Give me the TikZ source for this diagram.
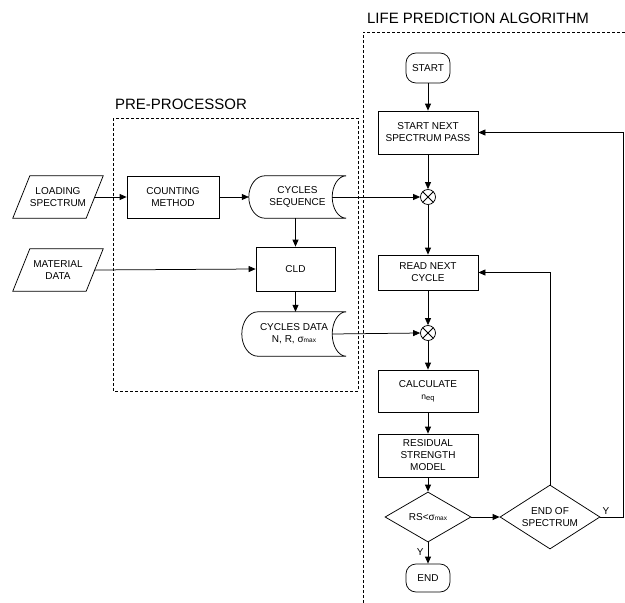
\documentclass[tikz,border=0pt]{standalone}
\usepackage{fontspec}
\setmainfont{Liberation Sans}
\usetikzlibrary{arrows.meta,shapes.geometric}

% parallelogram outline around a plain node (slant offset 8.5pt on each side)
\newcommand\paraframe[1]{%
  \draw[outline] ([xshift=-8.5pt]#1.south west) -- ([xshift=8.5pt]#1.north west)
    -- ([xshift=8.5pt]#1.north east) -- ([xshift=-8.5pt]#1.south east) -- cycle;}
% stored-data outline: convex left side, concave right side
% #1 node, #2 left bulge radius, #3 right hollow depth, #4 half height
\newcommand\storedframe[4]{%
  \draw[outline] ([xshift=#2*1pt]#1.north west) -- (#1.north east)
    .. controls ([xshift=-0.552*#3*1pt]#1.north east)
       and ([xshift=-#3*1pt,yshift=0.552*#4*1pt]#1.east) .. ([xshift=-#3*1pt]#1.east)
    .. controls ([xshift=-#3*1pt,yshift=-0.552*#4*1pt]#1.east)
       and ([xshift=-0.552*#3*1pt]#1.south east) .. (#1.south east)
    -- ([xshift=#2*1pt]#1.south west)
    .. controls ([xshift=0.448*#2*1pt]#1.south west)
       and ([yshift=-0.552*#4*1pt]#1.west) .. (#1.west)
    .. controls ([yshift=0.552*#4*1pt]#1.west)
       and ([xshift=0.448*#2*1pt]#1.north west) .. ([xshift=#2*1pt]#1.north west)
    -- cycle;}

\begin{document}
\begin{tikzpicture}[x=1pt,y=-1pt,
  every node/.style={font=\fontsize{10}{12}\selectfont, align=center, inner sep=0pt},
  outline/.style={line width=0.75pt},
  flow/.style={line width=0.75pt, -{Triangle[length=7pt,width=6pt]}},
  frame/.style={line width=0.6pt, dash pattern=on 3pt off 2pt},
  title/.style={font=\fontsize{15}{18}\selectfont},
  box/.style={draw, line width=0.75pt, minimum width=100pt, minimum height=43pt},
  terminal/.style={draw, line width=0.75pt, rounded corners=10pt, minimum width=44pt, minimum height=30pt},
  decision/.style={draw, line width=0.75pt, diamond, aspect=1.5625},
  inputdata/.style={minimum width=73pt, minimum height=42pt},
  stored/.style={minimum height=42pt},
  junction/.style={draw, line width=0.75pt, circle, minimum size=15pt,
    path picture={\draw[line width=0.75pt] (path picture bounding box.north west) -- (path picture bounding box.south east)
      (path picture bounding box.north east) -- (path picture bounding box.south west);}},
  ylabel/.style={font=\fontsize{10}{12}\selectfont}
]
\useasboundingbox (0,0) rectangle (625,603);

% group frames and titles
\draw[frame] (113,118) rectangle (358,391);
\draw[frame] (625,32) -- (363,32) -- (363,603);
\node[title] (pretitle) at (181,104) {PRE-PROCESSOR};
\node[title] (lifetitle) at (478,18) {LIFE PREDICTION ALGORITHM};

% pre-processor
\node[inputdata] (ls) at (58,197) {LOADING\\SPECTRUM};
\paraframe{ls}
\node[inputdata] (md) at (58,270) {MATERIAL\\DATA};
\paraframe{md}
\node[box, minimum width=92pt, minimum height=42pt] (cm) at (173,197) {COUNTING\\METHOD};
\node[stored, minimum width=97pt] (cs) at (297.5,197) {CYCLES\\SEQUENCE};
\storedframe{cs}{16}{14}{21}
\node[box, minimum width=79pt, minimum height=44pt] (cld) at (295.5,269) {CLD};
\node[stored, minimum width=104pt, minimum height=44pt] (cd) at (294,334)
  {CYCLES DATA\\N, R, σ{\fontsize{6.5}{7}\selectfont max}};
\storedframe{cd}{16}{14}{22}

% life prediction algorithm
\node[terminal] (start) at (428,68) {START};
\node[box] (snp) at (428,132.5) {START NEXT\\SPECTRUM PASS};
\node[junction] (j1) at (428,197) {};
\node[box, minimum height=35pt] (rnc) at (428,272.5) {READ NEXT\\CYCLE};
\node[junction] (j2) at (428,333) {};
\node[box, minimum height=42pt] (calc) at (428,391)
  {CALCULATE\\{\fontsize{8.5}{10}\selectfont n\raisebox{-0.8pt}{\fontsize{7.5}{8}\selectfont eq}}};
\node[box] (rsm) at (428,455.5) {RESIDUAL\\STRENGTH\\MODEL};
\node[decision, minimum width=86pt, minimum height=50pt] (d1) at (428,517)
  {RS<σ{\fontsize{6.5}{7}\selectfont max}};
\node[decision, minimum width=100pt, minimum height=64pt] (d2) at (550,517) {END OF\\SPECTRUM};
\node[terminal, minimum height=28pt] (end) at (428,578) {END};
\coordinate (outer) at (623,517);

% connectors
\draw[flow] (ls.east) -- (cm.west);
\draw[flow] (cm.east) -- (cs.west);
\draw[flow] (cld.north |- cs.south) -- (cld.north);
\draw[flow] (md.east) -- (cld.west);
\draw[flow] (cld.south) -- (cd.north -| cld.south);
\draw[flow] ([xshift=-14pt]cs.east) -- (j1.west);
\draw[flow] ([xshift=-14pt]cd.east) -- (j2.west);

\draw[flow] (start.south) -- (snp.north);
\draw[flow] (snp.south) -- (j1.north);
\draw[flow] (j1.south) -- (rnc.north);
\draw[flow] (rnc.south) -- (j2.north);
\draw[flow] (j2.south) -- (calc.north);
\draw[flow] (calc.south) -- (rsm.north);
\draw[flow] (rsm.south) -- (d1.north);
\draw[flow] (d1.east) -- (d2.west);
\draw[flow] (d1.south) -- node[ylabel, pos=0.45, left=4pt] (y1) {Y} (end.north);
\draw[flow] (d2.north) |- (rnc.east);
\draw[flow] (d2.east) -- node[ylabel, pos=0.25, above=2pt] (y2) {Y} (outer) |- (snp.east);
\end{tikzpicture}
\end{document}
